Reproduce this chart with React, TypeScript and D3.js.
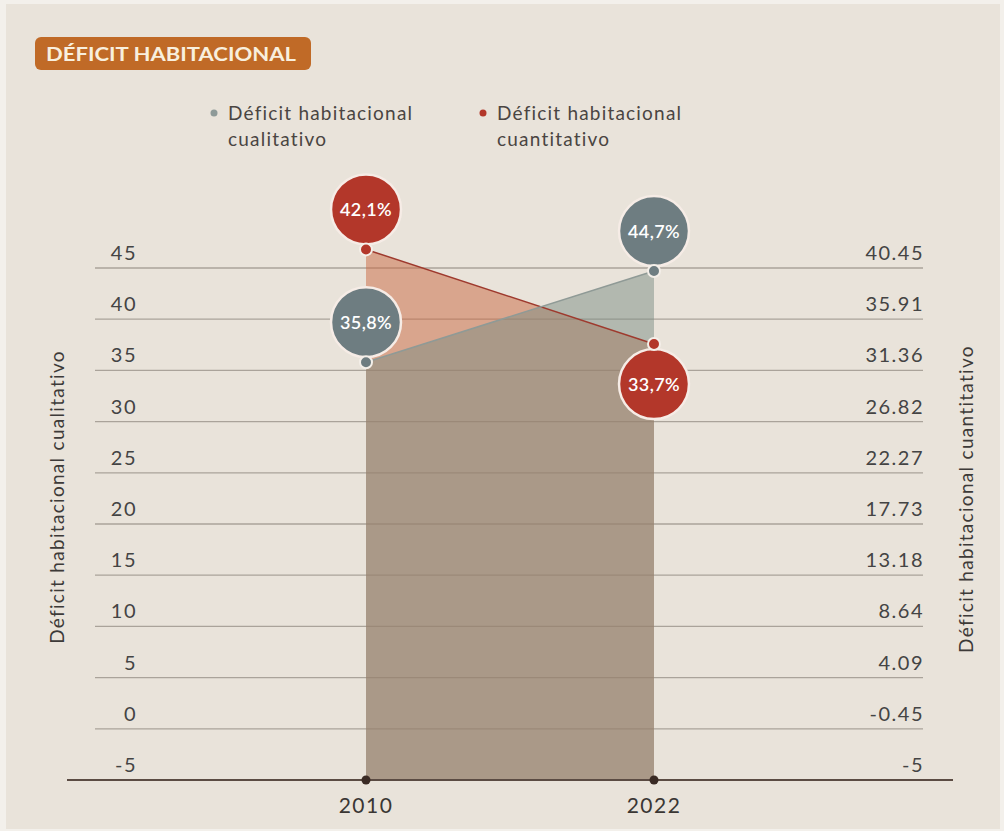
import React from "react";
import * as d3 from "d3";

// values
const years = ["2010", "2022"];
const cualitativo = [35.8, 44.7];
const cuantitativo = [42.1, 33.7];
const cualitativoLabels = ["35,8%", "44,7%"];
const cuantitativoLabels = ["42,1%", "33,7%"];
const leftTicks = [-5, 0, 5, 10, 15, 20, 25, 30, 35, 40, 45];
const rightTicks = ["-5", "-0.45", "4.09", "8.64", "13.18", "17.73", "22.27", "26.82", "31.36", "35.91", "40.45"];

const W = 1004;
const H = 831;
const FONT = "Lato, 'Open Sans', sans-serif";

const x = d3.scalePoint<string>().domain(years).range([366, 654]);
const yLeft = d3.scaleLinear().domain([-5, 45]).range([780, 268]);
const yRight = d3.scaleLinear().domain([-5, 40.45]).range([780, 268]);

const areaLeft = d3
  .area<number>()
  .x((_, i) => x(years[i])!)
  .y0(yLeft(-5))
  .y1((d) => yLeft(d));
const areaRight = d3
  .area<number>()
  .x((_, i) => x(years[i])!)
  .y0(yRight(-5))
  .y1((d) => yRight(d));
const lineLeft = d3
  .line<number>()
  .x((_, i) => x(years[i])!)
  .y((d) => yLeft(d));
const lineRight = d3
  .line<number>()
  .x((_, i) => x(years[i])!)
  .y((d) => yRight(d));

const RED = "#b3372a";
const GRAY = "#6e7d81";

const Bubble: React.FC<{ cx: number; cy: number; dy: number; fill: string; label: string }> = ({
  cx,
  cy,
  dy,
  fill,
  label,
}) => (
  <g>
    <circle cx={cx} cy={cy + dy} r={35} fill={fill} stroke="#f6ece6" strokeWidth={2.5} />
    <text
      x={cx}
      y={cy + dy}
      dy="0.36em"
      textAnchor="middle"
      fill="#ffffff"
      fontFamily={FONT}
      fontWeight={600}
      fontSize={18}
      letterSpacing={0.4}
    >
      {label}
    </text>
    <circle cx={cx} cy={cy} r={6} fill={fill} stroke="#f4efe9" strokeWidth={2} />
  </g>
);

const App: React.FC = () => {
  return (
    <svg
      width={W}
      height={H}
      viewBox={`0 0 ${W} ${H}`}
      style={{ position: "absolute", left: 0, top: 0, display: "block" }}
    >
      <rect x={0} y={0} width={W} height={H} fill="#f3f0eb" />
      <rect x={6} y={4} width={W - 10} height={H - 6} fill="#e9e3da" />

      {/* title badge */}
      <rect x={35} y={37} width={276} height={33} rx={6} fill="#c06a27" />
      <text
        x={46}
        y={61}
        fill="#f8efde"
        fontFamily={FONT}
        fontWeight={700}
        fontSize={18}
        textLength={250}
        lengthAdjust="spacingAndGlyphs"
      >
        DÉFICIT HABITACIONAL
      </text>

      {/* legend */}
      <g fontFamily={FONT} fontSize={19} fill="#4a4542" letterSpacing={1.2}>
        <circle cx={214} cy={113} r={3.5} fill="#8e9a98" />
        <text x={228} y={120}>Déficit habitacional</text>
        <text x={228} y={146}>cualitativo</text>
        <circle cx={483} cy={113} r={3.5} fill={RED} />
        <text x={497} y={120}>Déficit habitacional</text>
        <text x={497} y={146}>cuantitativo</text>
      </g>

      {/* gridlines and tick labels */}
      {leftTicks
        .filter((t) => t > -5)
        .map((t) => (
          <line key={t} x1={95} x2={923} y1={yLeft(t)} y2={yLeft(t)} stroke="#aaa39a" strokeWidth={1.3} />
        ))}
      <g fontFamily={FONT} fontSize={20} fill="#444" letterSpacing={1.5}>
        {leftTicks.map((t) => (
          <text key={t} x={137} y={yLeft(t) - 8} textAnchor="end">
            {t}
          </text>
        ))}
        {rightTicks.map((t) => (
          <text key={t} x={924} y={yRight(+t) - 8} textAnchor="end">
            {t}
          </text>
        ))}
      </g>

      {/* axis titles */}
      <text
        transform="translate(64,497) rotate(-90)"
        textAnchor="middle"
        fontFamily={FONT}
        fontSize={19}
        letterSpacing={1.3}
        fill="#3d3a38"
      >
        Déficit habitacional cualitativo
      </text>
      <text
        transform="translate(973,499) rotate(-90)"
        textAnchor="middle"
        fontFamily={FONT}
        fontSize={19}
        letterSpacing={1.3}
        fill="#3d3a38"
      >
        Déficit habitacional cuantitativo
      </text>

      {/* areas */}
      <path d={areaRight(cuantitativo)!} fill="#ca6840" fillOpacity={0.5} />
      <path d={areaLeft(cualitativo)!} fill="#7c8e84" fillOpacity={0.5} />
      <path d={lineRight(cuantitativo)!} fill="none" stroke="#9e3a2e" strokeWidth={1.5} />
      <path d={lineLeft(cualitativo)!} fill="none" stroke="#8f9a96" strokeWidth={1.5} />

      {/* bottom axis */}
      <line x1={67} x2={953} y1={yLeft(-5)} y2={yLeft(-5)} stroke="#5b4b43" strokeWidth={2} />
      {years.map((yr) => (
        <g key={yr}>
          <circle cx={x(yr)} cy={yLeft(-5)} r={4.5} fill="#3a2a24" />
          <text
            x={x(yr)}
            y={813}
            textAnchor="middle"
            fontFamily={FONT}
            fontSize={21}
            letterSpacing={1.5}
            fill="#3a3633"
          >
            {yr}
          </text>
        </g>
      ))}

      {/* points and bubbles */}
      {cuantitativo.map((v, i) => (
        <Bubble
          key={`r${i}`}
          cx={x(years[i])!}
          cy={yRight(v)}
          dy={i === years.length - 1 ? 40 : -40}
          fill={RED}
          label={cuantitativoLabels[i]}
        />
      ))}
      {cualitativo.map((v, i) => (
        <Bubble
          key={`g${i}`}
          cx={x(years[i])!}
          cy={yLeft(v)}
          dy={-40}
          fill={GRAY}
          label={cualitativoLabels[i]}
        />
      ))}
    </svg>
  );
};

export default App;
